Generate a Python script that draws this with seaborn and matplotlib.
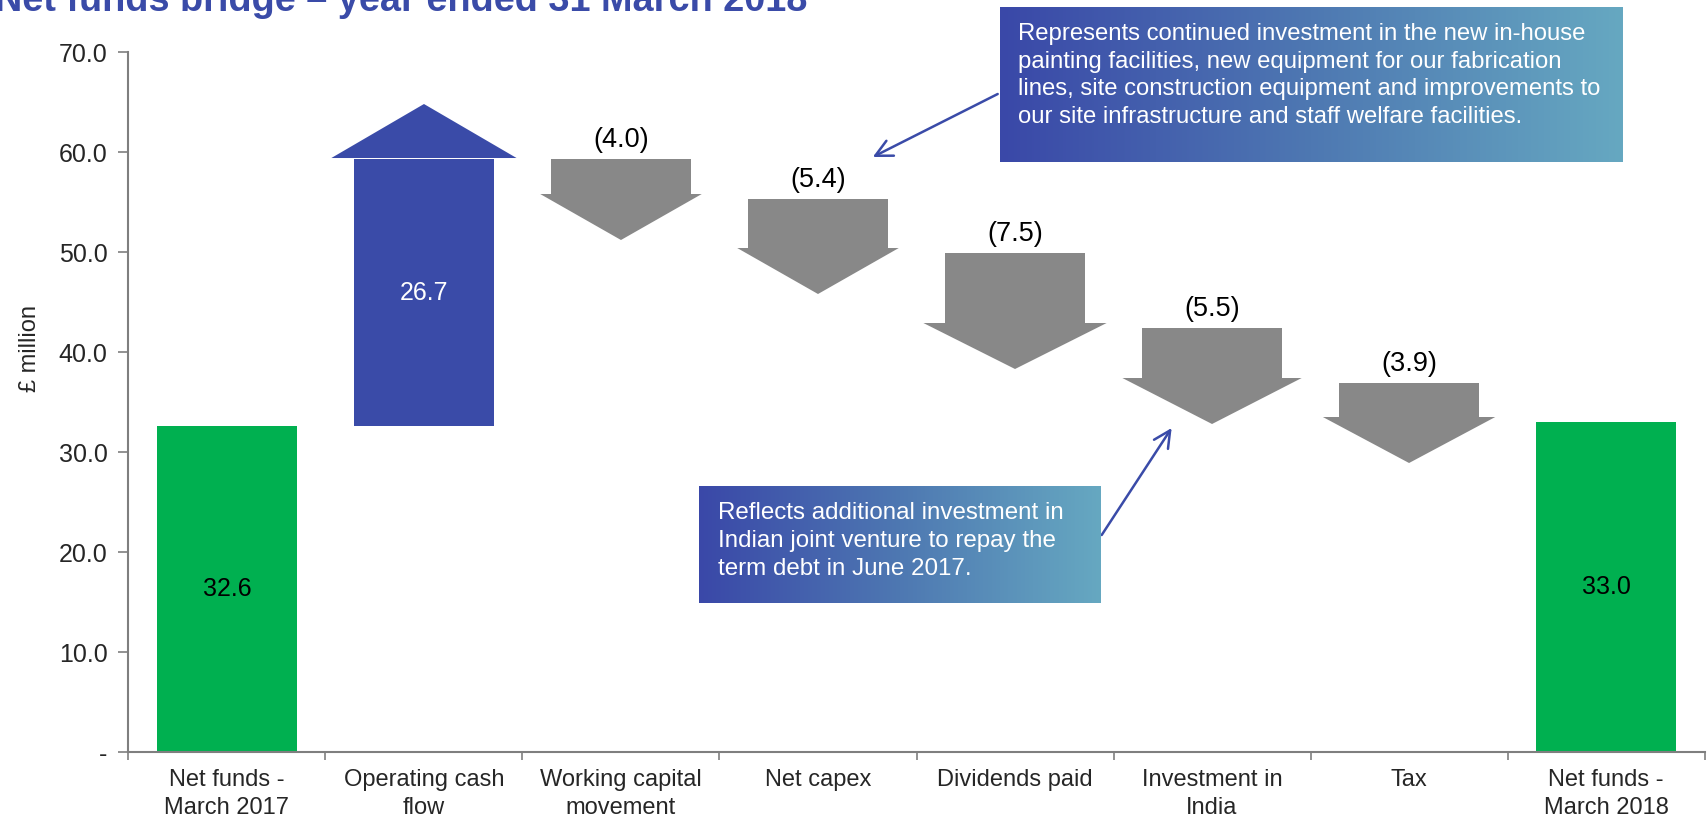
import numpy as np
import pandas as pd
import matplotlib
matplotlib.use("Agg")
import matplotlib.pyplot as plt
import seaborn as sns
from matplotlib.colors import LinearSegmentedColormap

# ---------------- data ----------------
categories = ["Net funds -\nMarch 2017", "Operating cash\nflow", "Working capital\nmovement",
              "Net capex", "Dividends paid", "Investment in\nIndia", "Tax",
              "Net funds -\nMarch 2018"]
movements = [32.6, 26.7, -4.0, -5.4, -7.5, -5.5, -3.9, 33.0]
kinds = ["total", "increase", "decrease", "decrease", "decrease", "decrease", "decrease", "total"]
value_labels = ["32.6", "26.7", "(4.0)", "(5.4)", "(7.5)", "(5.5)", "(3.9)", "33.0"]
ytick_values = [0, 10, 20, 30, 40, 50, 60, 70]
ytick_labels = ["-", "10.0", "20.0", "30.0", "40.0", "50.0", "60.0", "70.0"]
title = "Net funds bridge \u2013 year ended 31 March 2018"
y_label = "\u00a3 million"
note_capex = ("Represents continued investment in the new in-house\n"
              "painting facilities, new equipment for our fabrication\n"
              "lines, site construction equipment and improvements to\n"
              "our site infrastructure and staff welfare facilities.")
note_india = ("Reflects additional investment in\n"
              "Indian joint venture to repay the\n"
              "term debt in June 2017.")

# ---------------- styles ----------------
GREEN = "#00B050"
BLUE = "#3A4BA8"
GREY = "#888888"
AXIS_GREY = "#7F7F7F"
kind_colors = {"total": GREEN, "increase": BLUE, "decrease": GREY}
head_widths = [0, 0.94, 0.82, 0.82, 0.93, 0.91, 0.875, 0]
BAR_W = 0.71

sns.set_theme(style="white")
plt.rcParams["font.family"] = ["Liberation Sans", "DejaVu Sans"]

# waterfall bottoms / tops
bottoms, tops = [], []
running = 0.0
for m, k in zip(movements, kinds):
    if k == "total":
        b, t = 0.0, m
        running = m
    else:
        b, t = sorted([running, running + m])
        running = running + m
    bottoms.append(b)
    tops.append(t)

df = pd.DataFrame({"category": categories, "top": tops, "bottom": bottoms,
                   "kind": kinds, "move": movements})

fig = plt.figure(figsize=(17.08, 8.19), dpi=100)
ax = fig.add_axes([0.0752, 0.0818, 0.9228, 0.8547])

sns.barplot(data=df, x="category", y="top", hue="category",
            palette=[kind_colors[k] for k in kinds], width=BAR_W,
            saturation=1, errorbar=None, legend=False, ax=ax, zorder=2)

# make bars float
for i, p in enumerate(ax.patches[:len(categories)]):
    p.set_y(bottoms[i])
    p.set_height(tops[i] - bottoms[i])
    p.set_linewidth(0)

# arrow heads
for i, (k, m) in enumerate(zip(kinds, movements)):
    hw = head_widths[i] / 2
    if k == "increase":
        base = tops[i] + 0.1
        apex = base + 5.4
    elif k == "decrease":
        base = bottoms[i] + 0.5
        apex = base - 4.6
    else:
        continue
    ax.fill([i - hw, i + hw, i], [base, base, apex],
            color=kind_colors[k], lw=0, zorder=2)

# value labels
for i, (k, lab) in enumerate(zip(kinds, value_labels)):
    if k == "total":
        ax.text(i, tops[i] / 2, lab, ha="center", va="center", fontsize=18, color="black")
    elif k == "increase":
        ax.text(i, (tops[i] + bottoms[i]) / 2, lab, ha="center", va="center",
                fontsize=18, color="white")
    else:
        ax.text(i, tops[i] + 1.95, lab, ha="center", va="center", fontsize=19.5, color="black")

# axes styling
ax.set_xlim(-0.5, len(categories) - 0.5)
ax.set_ylim(0, 70)
ax.set_yticks(ytick_values)
ax.set_yticklabels(ytick_labels, fontsize=18)
ax.set_xticks(np.arange(len(categories) + 1) - 0.5)
ax.set_xticklabels([])
ax.set_xticks(np.arange(len(categories)), minor=True)
ax.set_xticklabels(categories, minor=True, fontsize=17, linespacing=1.38)
ax.tick_params(axis="x", which="major", direction="out", length=6, width=1.2,
               color=AXIS_GREY, bottom=True)
ax.tick_params(axis="x", which="minor", length=0, pad=12, bottom=True)
ax.tick_params(axis="y", which="major", direction="out", length=7, width=1.2,
               color=AXIS_GREY, pad=8, left=True)
ax.set_xlabel("")
ax.set_ylabel(y_label, fontsize=17)
ax.yaxis.set_label_coords(-0.0555, 0.577)
for s in ["top", "right"]:
    ax.spines[s].set_visible(False)
for s in ["left", "bottom"]:
    ax.spines[s].set_color(AXIS_GREY)
    ax.spines[s].set_linewidth(1.5)
ax.grid(False)

# title (partly cropped at top as in the original)
fig.text(-0.003, 1 - 11 / 819, title, fontsize=27.3, fontweight="bold",
         color=BLUE, ha="left", va="baseline")

# gradient note boxes
cmap = LinearSegmentedColormap.from_list("note", ["#3A48A8", "#4E78B2", "#66A8C1"])
grad = np.linspace(0, 1, 256).reshape(1, -1)


def note_box(rect, text, tx, ty, fs, ls):
    bax = fig.add_axes(rect)
    bax.imshow(grad, aspect="auto", cmap=cmap, extent=[0, 1, 0, 1])
    bax.set_xlim(0, 1)
    bax.set_ylim(0, 1)
    bax.axis("off")
    bax.text(tx, ty, text, color="white", fontsize=fs, ha="left", va="top",
             linespacing=ls, transform=bax.transAxes)
    return bax


note_box([1000 / 1708, 1 - 162 / 819, 623 / 1708, 155.5 / 819], note_capex, 0.029, 0.895, 17.2, 1.34)
note_box([699 / 1708, 1 - 603 / 819, 402 / 1708, 117 / 819], note_india, 0.047, 0.865, 17.4, 1.36)

# pointer arrows
arrow_kw = dict(arrowstyle="->", color=BLUE, lw=1.8, mutation_scale=30, shrinkA=0, shrinkB=0)
ax.annotate("", xy=(3.278, 59.5), xytext=(3.912, 65.8), arrowprops=arrow_kw,
            annotation_clip=False, zorder=5)
ax.annotate("", xy=(4.795, 32.4), xytext=(4.440, 21.7), arrowprops=arrow_kw,
            annotation_clip=False, zorder=5)

fig.savefig("out.png", dpi=100)
